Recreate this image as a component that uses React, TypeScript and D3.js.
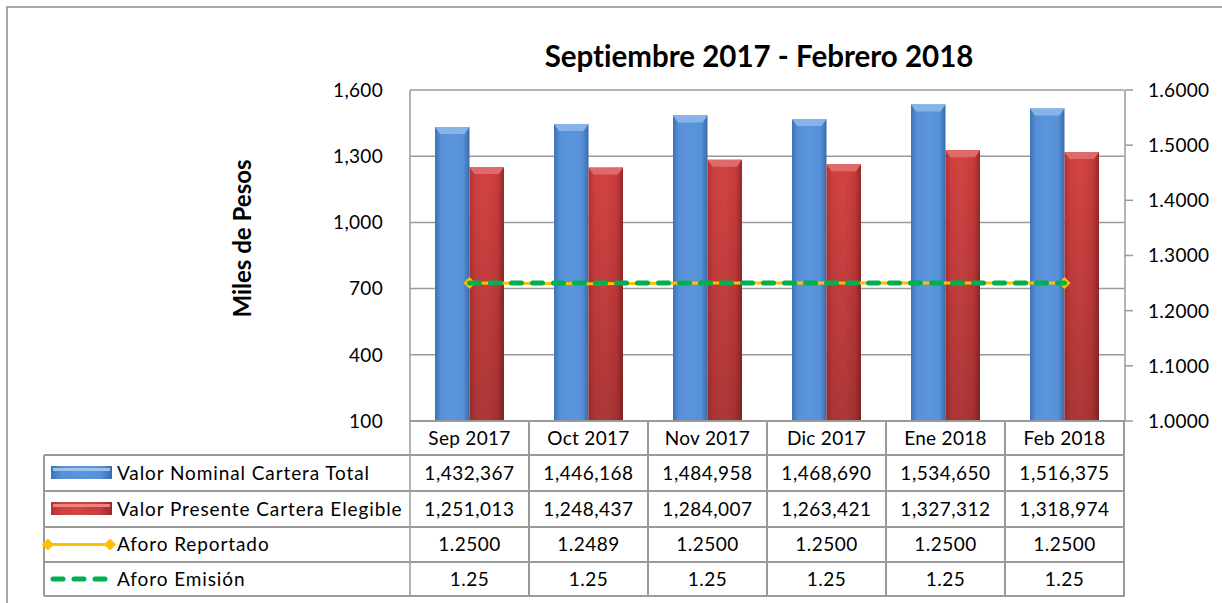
import React from "react";
import * as d3 from "d3";

// chart data
const categories = ["Sep 2017", "Oct 2017", "Nov 2017", "Dic 2017", "Ene 2018", "Feb 2018"];
const valorNominal = [1432367, 1446168, 1484958, 1468690, 1534650, 1516375];
const valorPresente = [1251013, 1248437, 1284007, 1263421, 1327312, 1318974];
const aforoReportado = [1.25, 1.2489, 1.25, 1.25, 1.25, 1.25];
const aforoEmision = [1.25, 1.25, 1.25, 1.25, 1.25, 1.25];
const leftTicks = [100, 400, 700, 1000, 1300, 1600];
const rightTicks = [1.0, 1.1, 1.2, 1.3, 1.4, 1.5, 1.6];
const seriesNames = [
    "Valor Nominal Cartera Total",
    "Valor Presente Cartera Elegible",
    "Aforo Reportado",
    "Aforo Emisión",
];

const FONT = "Lato, 'Open Sans', sans-serif";
const GRID = "#9a9a9a";

export default function App() {
    const width = 1222;
    const height = 603;
    const plot = { left: 410, right: 1124, top: 90, bottom: 421 };
    const tableLeft = 44;
    const rowEdges = [421, 455, 491, 527, 562, 596];

    const x = d3.scaleBand<string>().domain(categories).range([plot.left, plot.right]).padding(0);
    const xs = d3
        .scaleBand<string>()
        .domain(["nominal", "presente"])
        .range([0, x.bandwidth()])
        .paddingInner(0)
        .paddingOuter(0.725);
    const y = d3.scaleLinear().domain([100, 1600]).range([plot.bottom, plot.top]);
    const y2 = d3.scaleLinear().domain([1, 1.6]).range([plot.bottom, plot.top]);

    const line = d3
        .line<number>()
        .x((_, i) => (x(categories[i]) as number) + x.bandwidth() / 2)
        .y((d) => y2(d));

    const fmtInt = d3.format(",");
    const fmt4 = d3.format(".4f");

    const bar = (cat: string, v: number, key: string, fill: string, cap: string) => {
        const bx = (x(cat) as number) + (xs(key) as number);
        const bw = xs.bandwidth();
        const top = y(v / 1000);
        return (
            <g key={cat + key}>
                <rect x={bx} y={top} width={bw} height={plot.bottom - top} fill={fill} />
                {key === "presente" && (
                    <rect x={bx} y={top} width={bw} height={plot.bottom - top} fill="url(#shadeDown)" />
                )}
                <polygon
                    points={`${bx},${top} ${bx + bw},${top} ${bx + bw - 5},${top + 7} ${bx + 5},${top + 7}`}
                    fill={cap}
                />
            </g>
        );
    };

    const diamond = (cx: number, cy: number, r: number, k: string) => (
        <path key={k} d={`M${cx - r},${cy} L${cx},${cy - r} L${cx + r},${cy} L${cx},${cy + r} Z`} fill="#FFC000" />
    );

    const rowCenter = (r: number) => (rowEdges[r] + rowEdges[r + 1]) / 2;
    const tableRows = [
        valorNominal.map(fmtInt),
        valorPresente.map(fmtInt),
        aforoReportado.map(fmt4),
        aforoEmision.map((d) => d.toFixed(2)),
    ];

    const firstX = (x(categories[0]) as number) + x.bandwidth() / 2;
    const lastX = (x(categories[categories.length - 1]) as number) + x.bandwidth() / 2;

    return (
        <svg
            width={width}
            height={height}
            style={{ position: "absolute", left: 0, top: 0, background: "#fff", fontVariantLigatures: "none" }}
            fontFamily={FONT}
        >
            <defs>
                <linearGradient id="blueGrad" x1="0" x2="1" y1="0" y2="0">
                    <stop offset="0" stopColor="#3d72b8" />
                    <stop offset="0.18" stopColor="#5890d8" />
                    <stop offset="0.5" stopColor="#5b95dc" />
                    <stop offset="0.82" stopColor="#5690d8" />
                    <stop offset="1" stopColor="#3a69a8" />
                </linearGradient>
                <linearGradient id="redGrad" x1="0" x2="1" y1="0" y2="0">
                    <stop offset="0" stopColor="#b53232" />
                    <stop offset="0.18" stopColor="#cf4040" />
                    <stop offset="0.5" stopColor="#d34444" />
                    <stop offset="0.82" stopColor="#c63b3b" />
                    <stop offset="1" stopColor="#962828" />
                </linearGradient>
                <linearGradient id="shadeDown" x1="0" x2="0" y1="0" y2="1">
                    <stop offset="0" stopColor="#000" stopOpacity="0" />
                    <stop offset="1" stopColor="#000" stopOpacity="0.18" />
                </linearGradient>
            </defs>

            {/* outer frame */}
            <path d={`M7,${height + 5} L7,7 L${width + 5},7`} fill="none" stroke="#8c8c8c" strokeWidth={1.5} />

            {/* title */}
            <text x={759} y={67} textAnchor="middle" fontSize={29.5} fontWeight="bold" fill="#000">
                Septiembre 2017 - Febrero 2018
            </text>

            {/* y axis title */}
            <text
                transform="translate(251,238.5) rotate(-90)"
                textAnchor="middle"
                fontSize={24}
                fontWeight="bold"
            >
                Miles de Pesos
            </text>

            {/* gridlines */}
            {leftTicks.map((t) => (
                <line key={t} x1={plot.left} x2={plot.right} y1={y(t)} y2={y(t)} stroke={GRID} strokeWidth={1.5} />
            ))}

            {/* left axis labels */}
            {leftTicks.map((t) => (
                <text key={t} x={383} y={y(t)} dy="0.36em" textAnchor="end" fontSize={19} letterSpacing={0.3}>
                    {fmtInt(t)}
                </text>
            ))}

            {/* right axis */}
            <line x1={plot.right + 1} x2={plot.right + 1} y1={plot.top} y2={plot.bottom} stroke={GRID} strokeWidth={1.5} />
            {rightTicks.map((t) => (
                <g key={t}>
                    <line x1={plot.right + 1} x2={plot.right + 9} y1={y2(t)} y2={y2(t)} stroke={GRID} strokeWidth={1.5} />
                    <text x={1148} y={y2(t)} dy="0.36em" fontSize={19} letterSpacing={0.3}>
                        {fmt4(t)}
                    </text>
                </g>
            ))}

            {/* bars */}
            {categories.map((c, i) => bar(c, valorNominal[i], "nominal", "url(#blueGrad)", "#86b3e8"))}
            {categories.map((c, i) => bar(c, valorPresente[i], "presente", "url(#redGrad)", "#e06a6a"))}

            {/* aforo lines */}
            <path d={line(aforoReportado) || ""} fill="none" stroke="#FFC000" strokeWidth={3} />
            {diamond(firstX, y2(aforoReportado[0]), 6, "d0")}
            {diamond(lastX, y2(aforoReportado[aforoReportado.length - 1]), 6, "d1")}
            <path
                d={line(aforoEmision) || ""}
                fill="none"
                stroke="#00B050"
                strokeWidth={5}
                strokeDasharray="10 11"
                strokeLinecap="round"
            />

            {/* left axis line */}
            <line x1={plot.left} x2={plot.left} y1={plot.top} y2={rowEdges[5]} stroke={GRID} strokeWidth={1.5} />

            {/* data table */}
            {rowEdges.map((ry, i) => (
                <line
                    key={"r" + i}
                    x1={i === 0 ? plot.left : tableLeft}
                    x2={plot.right + 1}
                    y1={ry}
                    y2={ry}
                    stroke={GRID}
                    strokeWidth={2}
                />
            ))}
            <line x1={tableLeft} x2={tableLeft} y1={rowEdges[1]} y2={rowEdges[5]} stroke={GRID} strokeWidth={2} />
            {categories.map((c) => (
                <line
                    key={"v" + c}
                    x1={(x(c) as number) + x.bandwidth()}
                    x2={(x(c) as number) + x.bandwidth()}
                    y1={rowEdges[0]}
                    y2={rowEdges[5]}
                    stroke={GRID}
                    strokeWidth={2}
                />
            ))}

            {categories.map((c) => (
                <text
                    key={"h" + c}
                    x={(x(c) as number) + x.bandwidth() / 2}
                    y={rowCenter(0)}
                    dy="0.36em"
                    textAnchor="middle"
                    fontSize={19}
                    letterSpacing={0.3}
                >
                    {c}
                </text>
            ))}
            {tableRows.map((row, r) =>
                row.map((v, i) => (
                    <text
                        key={"c" + r + i}
                        x={(x(categories[i]) as number) + x.bandwidth() / 2}
                        y={rowCenter(r + 1)}
                        dy="0.36em"
                        textAnchor="middle"
                        fontSize={19}
                        letterSpacing={0.5}
                    >
                        {v}
                    </text>
                )),
            )}

            {/* legend keys */}
            <rect x={51} y={rowCenter(1) - 7} width={61} height={13} fill="url(#blueGrad)" />
            <rect x={53} y={rowCenter(1) - 5} width={57} height={3} fill="#9cc3ee" />
            <rect x={51} y={rowCenter(2) - 7} width={61} height={13} fill="url(#redGrad)" />
            <rect x={53} y={rowCenter(2) - 5} width={57} height={3} fill="#e88484" />
            <line x1={48} x2={110} y1={rowCenter(3)} y2={rowCenter(3)} stroke="#FFC000" strokeWidth={3} />
            {diamond(48, rowCenter(3), 6, "l0")}
            {diamond(110, rowCenter(3), 6, "l1")}
            <line
                x1={53}
                x2={106}
                y1={rowCenter(4)}
                y2={rowCenter(4)}
                stroke="#00B050"
                strokeWidth={5}
                strokeDasharray="10 11"
                strokeLinecap="round"
            />
            {seriesNames.map((s, i) => (
                <text key={s} x={117} y={rowCenter(i + 1)} dy="0.36em" fontSize={19} letterSpacing={0.9}>
                    {s}
                </text>
            ))}
        </svg>
    );
}
